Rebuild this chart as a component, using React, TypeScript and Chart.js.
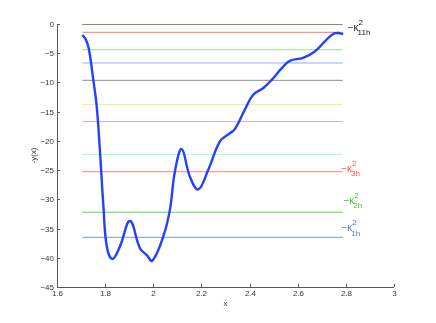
import React, { useEffect, useRef } from "react";
import { Chart, registerables } from "chart.js";

Chart.register(...registerables);

// Blue curve samples (x, -y(x))
const curveX = [1.705, 1.718, 1.732, 1.751, 1.765, 1.779, 1.793, 1.807, 1.83, 1.861, 1.903, 1.945, 1.972, 1.996, 2.041, 2.069, 2.09, 2.118, 2.152, 2.187, 2.228, 2.277, 2.318, 2.339, 2.38, 2.415, 2.456, 2.491, 2.533, 2.567, 2.622, 2.671, 2.712, 2.747, 2.768, 2.789];
const curveY = [-1.88, -2.5, -4.2, -9.6, -14.1, -22.1, -31.3, -38.1, -40.2, -38.1, -33.7, -38.4, -39.5, -40.5, -36.4, -31.8, -25.2, -21.4, -26.1, -28.3, -25.0, -20.1, -18.7, -18.0, -14.7, -12.1, -11.0, -9.6, -7.6, -6.3, -5.8, -4.7, -3.0, -1.7, -1.55, -1.76];

// Horizontal levels
const levelStart = 1.705;
const levelEnd = 2.787;
const levelValues = [-0.05, -1.42, -4.4, -6.67, -9.64, -13.8, -16.7, -22.3, -25.27, -32.2, -36.5];
const levelColors = ["#4a7a4a", "#ff7373", "#a6de8c", "#9aabff", "#8f8f8f", "#e6f08a", "#d6a6f2", "#9ffde0", "#ff8282", "#66cc55", "#8090f0"];

// Labels
const labelSubs = ["11h", "3h", "2h", "1h"];
const labelX = [2.808, 2.781, 2.79, 2.782];
const labelY = [-0.68, -24.8, -30.3, -34.96];
const labelColors = ["#222222", "#ff4a4a", "#3fbf2f", "#5a6af0"];

const xTicks = [1.6, 1.8, 2, 2.2, 2.4, 2.6, 2.8, 3];
const yTicks = [0, -5, -10, -15, -20, -25, -30, -35, -40, -45];

const FONT = "'Liberation Sans', Arial, sans-serif";

const fmtX = (v: number) => String(Number(v.toFixed(1)));
const fmtY = (v: number) => (v < 0 ? "\u2212" + String(-v) : String(v));

const axesPlugin = {
  id: "matlabAxes",
  afterDraw(chart: any) {
    const ctx = chart.ctx as CanvasRenderingContext2D;
    const xs = chart.scales.x;
    const ys = chart.scales.y;
    const a = chart.chartArea;
    ctx.save();
    ctx.strokeStyle = "#555";
    ctx.lineWidth = 1;
    ctx.beginPath();
    ctx.moveTo(Math.round(a.left) + 0.5, a.top);
    ctx.lineTo(Math.round(a.left) + 0.5, Math.round(a.bottom) + 0.5);
    ctx.lineTo(a.right, Math.round(a.bottom) + 0.5);
    ctx.stroke();

    ctx.fillStyle = "#333";
    ctx.font = `8px ${FONT}`;
    ctx.textAlign = "right";
    ctx.textBaseline = "middle";
    yTicks.forEach((v) => {
      const p = Math.round(ys.getPixelForValue(v)) + 0.5;
      ctx.beginPath();
      ctx.moveTo(a.left, p);
      ctx.lineTo(a.left + 3, p);
      ctx.stroke();
      ctx.fillText(fmtY(v), a.left - 3, p);
    });
    ctx.textAlign = "center";
    xTicks.forEach((v) => {
      const p = Math.round(xs.getPixelForValue(v)) + 0.5;
      ctx.beginPath();
      ctx.moveTo(p, a.bottom);
      ctx.lineTo(p, a.bottom - 3);
      ctx.stroke();
      ctx.fillText(fmtX(v), p, a.bottom + 7);
    });
    ctx.fillText("x", (a.left + a.right) / 2, a.bottom + 17);
    ctx.save();
    ctx.translate(a.left - 23, (a.top + a.bottom) / 2);
    ctx.rotate(-Math.PI / 2);
    ctx.fillText("-y(x)", 0, 0);
    ctx.restore();

    labelSubs.forEach((sub, i) => {
      const x = xs.getPixelForValue(labelX[i]);
      const y = ys.getPixelForValue(labelY[i]);
      ctx.fillStyle = labelColors[i];
      ctx.textAlign = "left";
      ctx.textBaseline = "middle";
      ctx.font = `10px ${FONT}`;
      const main = "\u2212\u03ba";
      ctx.fillText(main, x, y);
      const w = ctx.measureText(main).width;
      ctx.font = `8px ${FONT}`;
      ctx.fillText("2", x + w, y - 5.5);
      ctx.fillText(sub, x + w - 1, y + 5);
    });
    ctx.restore();
  },
};

export default function App() {
  const ref = useRef<HTMLCanvasElement>(null);
  useEffect(() => {
    if (!ref.current) return;
    const datasets: any[] = [
      {
        data: curveX.map((x, i) => ({ x, y: curveY[i] })),
        borderColor: "#2440ff",
        borderWidth: 2.4,
        pointRadius: 0,
        tension: 0.4,
        fill: false,
      },
      ...levelValues.map((v, i) => ({
        data: [
          { x: levelStart, y: v },
          { x: levelEnd, y: v },
        ],
        borderColor: levelColors[i],
        borderWidth: 1,
        pointRadius: 0,
        fill: false,
      })),
    ];
    const chart = new Chart(ref.current, {
      type: "line",
      data: { datasets },
      options: {
        animation: false,
        responsive: false,
        devicePixelRatio: 1,
        layout: { padding: { left: 57, right: 42, top: 24, bottom: 36 } },
        plugins: { legend: { display: false }, tooltip: { enabled: false } },
        scales: {
          x: { type: "linear", min: 1.6, max: 3, display: false },
          y: { type: "linear", min: -45, max: 0, display: false },
        },
      },
      plugins: [axesPlugin],
    });
    return () => chart.destroy();
  }, []);
  return (
    <div style={{ position: "fixed", left: 0, top: 0, width: 436, height: 323, background: "#fff" }}>
      <canvas ref={ref} width={436} height={323} />
    </div>
  );
}
